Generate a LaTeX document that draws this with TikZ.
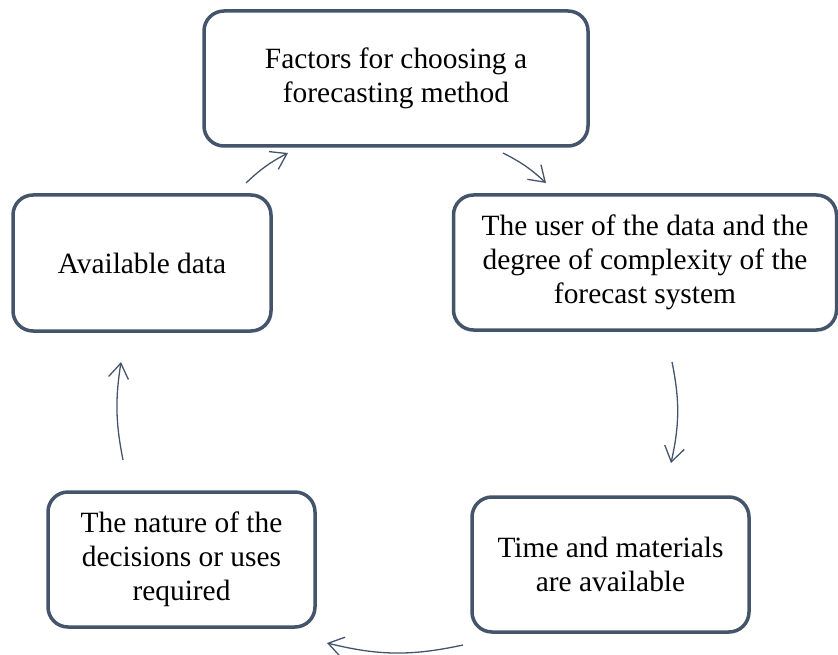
\documentclass[tikz,border=0pt]{standalone}
\usepackage{fontspec}
\setmainfont{Liberation Serif}
\usetikzlibrary{arrows.meta}
\definecolor{slate}{HTML}{44546A}
\tikzset{
  box/.style={draw=slate, line width=3.5pt, rounded corners=20pt, fill=white,
    align=center, inner sep=0pt, font=\fontsize{29.4}{34}\selectfont, text=black},
  flow/.style={draw=slate, line width=1.3pt,
    -{Straight Barb[length=15pt,width=20pt,line width=1.3pt]}}
}
\begin{document}
\begin{tikzpicture}[x=1pt,y=-1pt]
\useasboundingbox (0,0) rectangle (838,655);
\node[box, minimum width=384pt, minimum height=135pt] (top) at (396,78.5)
  {Factors for choosing a\\forecasting method};
\node[box, minimum width=383pt, minimum height=135pt] (user) at (645,262.5)
  {The user of the data and the\\degree of complexity of the\\forecast system};
\node[box, minimum width=258pt, minimum height=136pt] (avail) at (142,263)
  {Available data};
\node[box, minimum width=267pt, minimum height=135pt] (nature) at (181.5,559.5)
  {The nature of the\\decisions or uses\\required};
\node[box, minimum width=277pt, minimum height=135pt] (time) at (610.5,564.5)
  {Time and materials\\are available};

\coordinate (a1s) at (503,153);
\coordinate (a1e) at (546,183);
\coordinate (a2s) at (672,362);
\coordinate (a2e) at (671,463);
\coordinate (a3s) at (463,645);
\coordinate (a3e) at (327,643);
\coordinate (a4s) at (123,460);
\coordinate (a4e) at (121,362);
\coordinate (a5s) at (246,183);
\coordinate (a5e) at (288,153);

\draw[flow] (a1s) to[bend left=8] (a1e);
\draw[flow] (a2s) to[bend left=12] (a2e);
\draw[flow] (a3s) to[bend left=13] (a3e);
\draw[flow] (a4s) to[bend left=10] (a4e);
\draw[flow] (a5s) to[bend left=8] (a5e);
\end{tikzpicture}
\end{document}
